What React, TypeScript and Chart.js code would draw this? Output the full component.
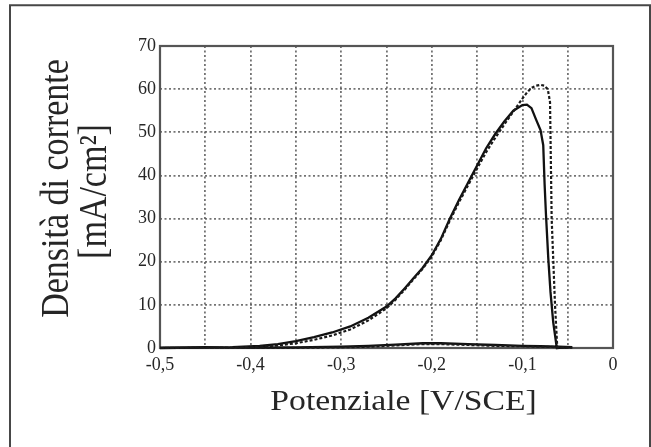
import React, { useEffect, useRef } from 'react';
import { Chart, registerables } from 'chart.js';

Chart.register(...registerables);

// ---- data ----
const potSolid = [
  -0.5, -0.46, -0.42, -0.39, -0.37, -0.35, -0.33, -0.31, -0.29, -0.27, -0.25, -0.24, -0.23, -0.22,
  -0.21, -0.2, -0.19, -0.18, -0.17, -0.16, -0.15, -0.14, -0.13, -0.12, -0.11, -0.1, -0.095, -0.09,
  -0.085, -0.08, -0.077, -0.0755, -0.074, -0.0715, -0.069, -0.066, -0.062,
  -0.045, -0.06, -0.08, -0.1, -0.13, -0.16, -0.19, -0.21, -0.24, -0.27, -0.3, -0.35, -0.4, -0.45, -0.5,
];
const curSolid = [
  0, 0.1, 0.2, 0.5, 0.9, 1.6, 2.5, 3.6, 5.0, 7.0, 9.6, 11.5, 13.8, 16.2,
  18.6, 21.5, 25.3, 30, 34.3, 38.3, 42.3, 46.3, 49.6, 52.5, 55, 56.3, 56.4, 55.6,
  53, 50.5, 47, 38, 31, 21, 13, 6, 0,
  0.2, 0.3, 0.4, 0.5, 0.7, 0.9, 1.1, 1.1, 0.8, 0.5, 0.3, 0.15, 0.1, 0.2, 0.1,
];
const potDashed = [
  -0.5, -0.46, -0.42, -0.39, -0.37, -0.35, -0.33, -0.31, -0.29, -0.27, -0.25, -0.24, -0.23, -0.22,
  -0.21, -0.2, -0.19, -0.18, -0.17, -0.16, -0.15, -0.14, -0.13, -0.12, -0.11, -0.1, -0.095, -0.09,
  -0.085, -0.08, -0.076, -0.072, -0.0695, -0.0677, -0.064, -0.0615,
  -0.045, -0.06, -0.08, -0.1, -0.13, -0.16, -0.19, -0.21, -0.24, -0.27, -0.3, -0.35, -0.4, -0.45, -0.5,
];
const curDashed = [
  0, 0.05, 0.1, 0.3, 0.6, 1.1, 1.9, 2.9, 4.3, 6.4, 9.2, 11.2, 13.5, 16,
  18.4, 21.2, 25, 29.6, 33.8, 37.7, 41.6, 45.4, 48.7, 51.8, 54.8, 57.8, 59.2, 60.3,
  60.8, 61, 60.8, 60, 57, 30, 10, 0,
  0.1, 0.2, 0.3, 0.4, 0.5, 0.7, 0.9, 0.9, 0.6, 0.3, 0.15, 0.05, 0, 0.1, 0,
];
const xTickLabels = ['-0,5', '-0,4', '-0,3', '-0,2', '-0,1', '0'];
const yTickLabels = ['0', '10', '20', '30', '40', '50', '60', '70'];
const xTitle = 'Potenziale [V/SCE]';
const yTitleLines = ['Densità di corrente', '[mA/cm²]'];

const STRETCH = 1.16;
const TEXT_COLOR = '#262626';

const decorPlugin = {
  id: 'decor',
  beforeDraw(chart: any) {
    const ctx = chart.ctx;
    ctx.save();
    ctx.fillStyle = '#ffffff';
    ctx.fillRect(0, 0, chart.width, chart.height);
    ctx.strokeStyle = '#474747';
    ctx.lineWidth = 2;
    ctx.beginPath();
    ctx.moveTo(10, chart.height + 5);
    ctx.lineTo(10, 5.3);
    ctx.lineTo(650, 5.3);
    ctx.lineTo(650, chart.height + 5);
    ctx.stroke();
    ctx.restore();
  },
  beforeDatasetsDraw(chart: any) {
    const ctx = chart.ctx;
    const { left, top, right, bottom } = chart.chartArea;
    ctx.save();
    ctx.strokeStyle = '#555555';
    ctx.lineWidth = 2.2;
    ctx.strokeRect(left, top, right - left, bottom - top);
    ctx.restore();
  },
  afterDraw(chart: any) {
    const ctx = chart.ctx;
    ctx.save();
    ctx.fillStyle = TEXT_COLOR;
    ctx.textAlign = 'center';
    ctx.textBaseline = 'alphabetic';
    // x title
    ctx.font = '29px "Liberation Serif"';
    ctx.save();
    ctx.translate(403.5, 410);
    ctx.scale(STRETCH, 1);
    ctx.fillText(xTitle, 0, 0);
    ctx.restore();
    // y title (two lines)
    ctx.font = '34px "Liberation Serif"';
    const pos = [
      [68, 188.5],
      [106, 191.5],
    ];
    yTitleLines.forEach((t, i) => {
      ctx.save();
      ctx.translate(pos[i][0], pos[i][1]);
      ctx.scale(STRETCH, 1);
      ctx.rotate(-Math.PI / 2);
      ctx.fillText(t, 0, 0);
      ctx.restore();
    });
    ctx.restore();
  },
};

export default function App() {
  const ref = useRef<HTMLCanvasElement | null>(null);

  useEffect(() => {
    if (!ref.current) return;
    const solid = potSolid.map((x, i) => ({ x, y: curSolid[i] }));
    const dashed = potDashed.map((x, i) => ({ x, y: curDashed[i] }));
    const gridColor = 'rgba(80,80,80,0.8)';
    const tickFont = { family: '"Liberation Serif"', size: 18 };

    const chart = new Chart(ref.current, {
      type: 'scatter',
      data: {
        datasets: [
          {
            data: dashed,
            showLine: true,
            borderColor: '#1a1a1a',
            borderWidth: 2.2,
            borderDash: [3, 2],
            pointRadius: 0,
            tension: 0,
            clip: 4,
          },
          {
            data: solid,
            showLine: true,
            borderColor: '#111111',
            borderWidth: 2.3,
            pointRadius: 0,
            tension: 0,
            clip: 4,
          },
        ],
      },
      options: {
        responsive: false,
        animation: false,
        events: [],
        layout: { padding: { top: 46, right: 38, left: 0, bottom: 0 } },
        plugins: { legend: { display: false }, tooltip: { enabled: false }, title: { display: false } },
        scales: {
          x: {
            type: 'linear',
            min: -0.5,
            max: 0,
            afterFit: (s: any) => {
              s.height = 99;
            },
            ticks: {
              stepSize: 0.05,
              autoSkip: false,
              maxRotation: 0,
              minRotation: 0,
              padding: 6,
              font: tickFont,
              color: TEXT_COLOR,
              callback: (v: any) => {
                const k = Math.round(Number(v) * 20);
                if (k % 2 !== 0) return '';
                return xTickLabels[(k + 10) / 2];
              },
            },
            grid: { color: gridColor, lineWidth: 1.8, drawTicks: false },
            border: { display: false, dash: [2, 2.5] },
          },
          y: {
            type: 'linear',
            min: 0,
            max: 70,
            afterFit: (s: any) => {
              s.width = 160;
            },
            ticks: {
              stepSize: 10,
              padding: 4,
              font: tickFont,
              color: TEXT_COLOR,
              callback: (v: any) => yTickLabels[Math.round(Number(v) / 10)],
            },
            grid: { color: gridColor, lineWidth: 1.8, drawTicks: false },
            border: { display: false, dash: [2, 2.5] },
          },
        },
      },
      plugins: [decorPlugin],
    } as any);

    return () => chart.destroy();
  }, []);

  return (
    <div style={{ position: 'fixed', left: 0, top: 0, width: 651, height: 447, background: '#fff' }}>
      <canvas ref={ref} width={651} height={447} style={{ display: 'block', width: 651, height: 447 }} />
    </div>
  );
}
